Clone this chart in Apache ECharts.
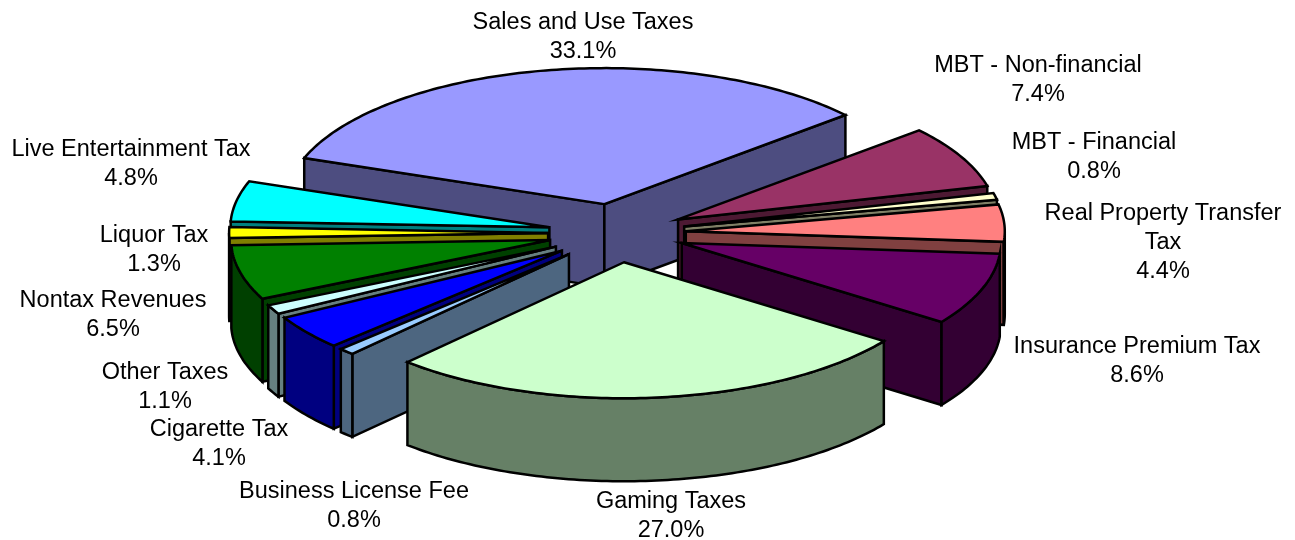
<!DOCTYPE html>
<html>
<head>
<meta charset="utf-8">
<title>Revenue shares</title>
<script src="https://cdn.jsdelivr.net/npm/echarts@6/dist/echarts.min.js"></script>
<style>
  html, body { margin: 0; padding: 0; background: #fff; }
  #main { width: 1295px; height: 540px; }
</style>
</head>
<body>
<div id="main"></div>
<script>
// values, in pie order (clockwise from Sales)
var categories = ['Sales and Use Taxes', 'MBT - Non-financial', 'MBT - Financial', 'Real Property Transfer\nTax',
  'Insurance Premium Tax', 'Gaming Taxes', 'Business License Fee', 'Cigarette Tax', 'Other Taxes',
  'Nontax Revenues', 'Liquor Tax', 'Live Entertainment Tax']
var shares = [33.1, 7.4, 0.8, 4.4, 8.6, 27.0, 0.8, 4.1, 1.1, 6.5, 1.3, 4.8]

var topColors = ['#9999FF', '#993366', '#FFFFCC', '#FF8080', '#660066', '#CCFFCC', '#99CCFF', '#0000FF', '#CCFFFF', '#008000', '#FFFF00', '#00FFFF']
var wallColors = ['#4D4D80', '#4D1933', '#808066', '#804040', '#330033', '#668066', '#4D6680', '#000080', '#668080', '#004000', '#808000', '#008080']

// paint order, back to front (index into categories)
var paintOrder = [0, 1, 2, 3, 4, 11, 10, 9, 8, 7, 6, 5]
// label centre, x and first line y
var labelX = [583, 1038, 1094, 1163, 1137, 671, 354, 219, 165, 113, 154, 131]
var labelY = [21, 64, 141, 212, 345, 500, 490, 428, 371, 299, 234, 148]

// pie geometry
var cx = 617
var cy = 233
var rx = 319
var ry = 136
var depth = 83
var explode = 0.216
var startAngle = -70.2

var total = shares.reduce(function (a, b) { return a + b }, 0)
var starts = []
var acc = 0
shares.forEach(function (v) {
  starts.push(startAngle + acc / total * 360)
  acc += v
})

function rad (deg) { return deg * Math.PI / 180 }

function rimPoint (ax, ay, t, dy) {
  return [ax + rx * Math.sin(rad(t)), ay - ry * Math.cos(rad(t)) + dy]
}

function arc (ax, ay, t1, t2, dy) {
  var pts = []
  var n = Math.max(2, Math.ceil(t2 - t1))
  for (var i = 0; i <= n; i++) {
    pts.push(rimPoint(ax, ay, t1 + (t2 - t1) * i / n, dy))
  }
  return pts
}

function poly (points, fill, z2) {
  return {
    type: 'polygon',
    z2: z2,
    shape: { points: points },
    style: { fill: fill, stroke: '#000', lineWidth: 2.5, lineJoin: 'miter' }
  }
}

function radialWall (ax, ay, t, fill, z2) {
  var p = rimPoint(ax, ay, t, 0)
  return poly([[ax, ay], p, [p[0], p[1] + depth], [ax, ay + depth]], fill, z2)
}

function renderSlice (params, api) {
  var i = params.dataIndex
  var value = api.value(0)
  var t1 = starts[i]
  var t2 = t1 + value / total * 360
  var mid = (t1 + t2) / 2
  var ax = cx + explode * rx * Math.sin(rad(mid))
  var ay = cy - explode * ry * Math.cos(rad(mid))
  var z = paintOrder.indexOf(i) * 10 + 1
  var children = []

  // cut faces that look towards the viewer
  if (Math.sin(rad(t1)) < 0) children.push(radialWall(ax, ay, t1, wallColors[i], z))
  if (Math.sin(rad(t2)) > 0) children.push(radialWall(ax, ay, t2, wallColors[i], z))

  // outer wall, only the front half of the rim shows
  var w1 = Math.max(t1, 90)
  var w2 = Math.min(t2, 270)
  if (w2 > w1) {
    var upper = arc(ax, ay, w1, w2, 0)
    var lower = arc(ax, ay, w1, w2, depth).reverse()
    children.push(poly(upper.concat(lower), wallColors[i], z + 1))
  }

  children.push(poly([[ax, ay]].concat(arc(ax, ay, t1, t2, 0)), topColors[i], z + 2))

  children.push({
    type: 'text',
    z2: 500,
    style: {
      x: labelX[i],
      y: labelY[i] - 13,
      text: categories[i] + '\n' + value.toFixed(1) + '%',
      fill: '#000',
      font: '23.5px "Liberation Sans", Arial, sans-serif',
      lineHeight: 29,
      align: 'center',
      verticalAlign: 'top'
    }
  })
  return { type: 'group', children: children }
}

var myChart = echarts.init(document.getElementById('main'))
myChart.setOption({
  animation: false,
  backgroundColor: '#fff',
  series: [{
    type: 'custom',
    coordinateSystem: 'none',
    silent: true,
    renderItem: renderSlice,
    data: shares.map(function (v) { return [v] })
  }]
})
</script>
</body>
</html>
